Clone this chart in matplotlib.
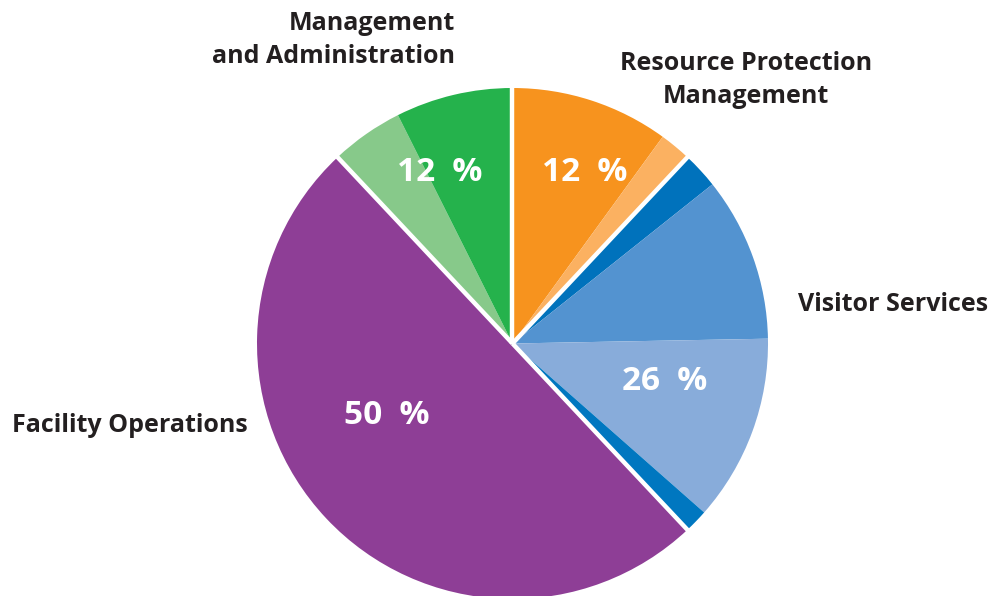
import matplotlib
matplotlib.use("Agg")
import matplotlib.pyplot as plt
import numpy as np

# Groups (clockwise from top)
groups = ["Resource Protection\nManagement", "Visitor Services", "Facility Operations", "Management\nand Administration"]
group_pct = [12, 26, 50, 12]
# Sub-slices within each group (percent of total)
slice_values = [10.0, 2.0,            # Resource Protection Management
                2.3, 10.4, 11.8, 1.5,  # Visitor Services
                50.0,                  # Facility Operations
                4.6, 7.4]              # Management and Administration
slice_group = [0, 0, 1, 1, 1, 1, 2, 3, 3]
slice_colors = ["#F7931E", "#FBB161",
                "#0072BC", "#5393D0", "#88ACDA", "#0077C0",
                "#8E3E96",
                "#87C98A", "#25B24C"]

fig = plt.figure(figsize=(10.03, 5.96), dpi=100)
ax = fig.add_axes([0, 0, 1, 1])

cx, cy, R = 512.5, 596 - 343.5, 255.5
ax.pie(slice_values, colors=slice_colors, startangle=90, counterclock=False,
       center=(cx, cy), radius=R, wedgeprops=dict(linewidth=0), frame=True)
ax.set_xlim(0, 1003)
ax.set_ylim(0, 596)
ax.set_aspect("equal")
ax.axis("off")

# White separators between groups
cum = 0
for g, p in enumerate(group_pct):
    ang = np.deg2rad(90 - cum / 100 * 360)
    ax.plot([cx, cx + (R + 3) * np.cos(ang)], [cy, cy + (R + 3) * np.sin(ang)],
            color="white", lw=3.2, solid_capstyle="butt", zorder=5)
    cum += p

font = "Open Sans"
dark = "#231F20"
# Percent labels
pct_pos = [(585, 172), (665, 382), (387, 416), (440, 172)]
for (x, y), p in zip(pct_pos, group_pct):
    ax.text(x, 596 - y, f"{p}  %", color="white", fontsize=24, fontweight="bold",
            family=font, ha="center", va="center", zorder=6)

# Category labels
fs = 18
ax.text(455, 596 - 40, groups[3], ha="right", va="center", fontsize=fs,
        fontweight="bold", family=font, color=dark, linespacing=1.45)
ax.text(746, 596 - 80, groups[0], ha="center", va="center", fontsize=fs,
        fontweight="bold", family=font, color=dark, linespacing=1.45)
ax.text(798, 596 - 304, groups[1], ha="left", va="center", fontsize=fs,
        fontweight="bold", family=font, color=dark)
ax.text(12, 596 - 426, groups[2], ha="left", va="center", fontsize=fs,
        fontweight="bold", family=font, color=dark)

fig.savefig("out.png", dpi=100)
